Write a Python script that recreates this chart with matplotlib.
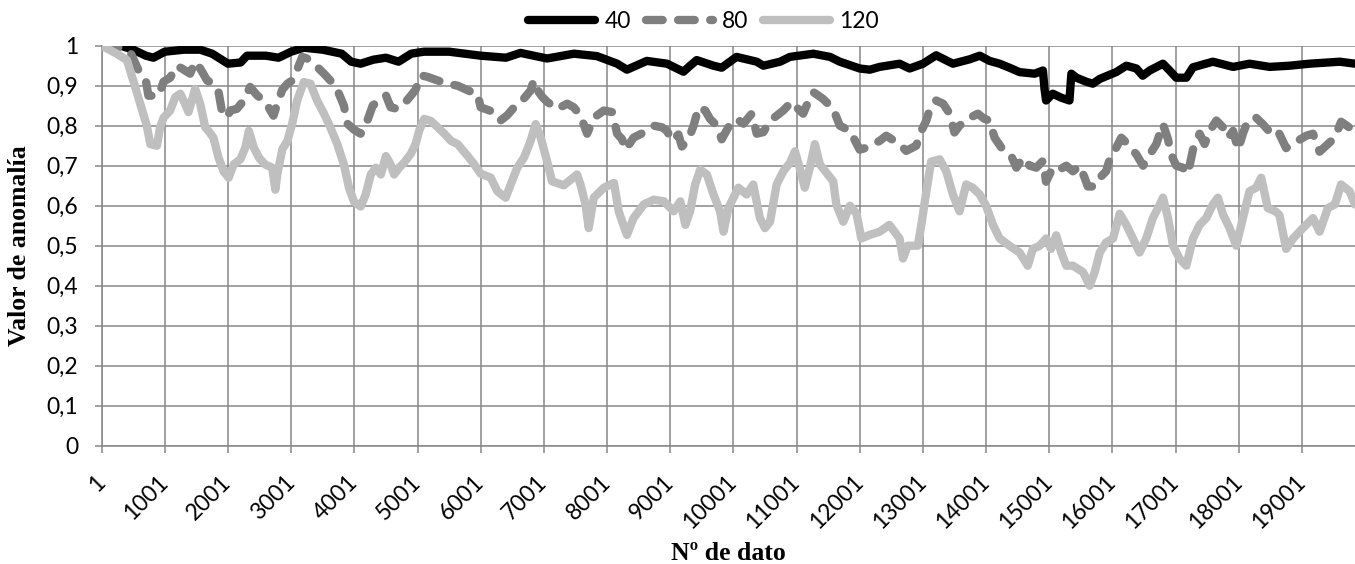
import matplotlib
matplotlib.use("Agg")
import matplotlib.pyplot as plt
from matplotlib.ticker import FixedLocator, FuncFormatter

# ---------------- data ----------------
series_labels = ["40", "80", "120"]

x40 = [1, 300, 500, 700, 820, 1000, 1300, 1560, 1750, 1900, 2000, 2200, 2300, 2600, 2800,
       3000, 3200, 3500, 3800, 3950, 4100, 4300, 4500, 4700, 4900, 5100, 5500, 6000, 6400,
       6630, 7050, 7475, 7840, 8160, 8315, 8630, 8950, 9105, 9210, 9315, 9420, 9685, 9815,
       10050, 10370, 10475, 10740, 10895, 11265, 11530, 11685, 12000, 12160, 12315, 12630,
       12790, 13001, 13210, 13475, 13740, 13900, 14055, 14215, 14370, 14530, 14770, 14900,
       14925, 14950, 15055, 15190, 15320, 15350, 15430, 15585, 15690, 15800, 16060, 16220,
       16380, 16480, 16590, 16800, 16905, 17010, 17170, 17275, 17590, 17910, 18170, 18490,
       18805, 19120, 19600, 19840]
y40 = [1.0, 1.0, 0.99, 0.975, 0.97, 0.985, 0.99, 0.99, 0.98, 0.965, 0.955, 0.958, 0.975, 0.975, 0.97,
       0.985, 0.995, 0.99, 0.98, 0.96, 0.955, 0.965, 0.97, 0.96, 0.98, 0.985, 0.985, 0.975, 0.97,
       0.982, 0.968, 0.98, 0.974, 0.955, 0.94, 0.962, 0.955, 0.943, 0.935, 0.95, 0.964, 0.95, 0.945,
       0.972, 0.96, 0.95, 0.96, 0.972, 0.98, 0.972, 0.96, 0.943, 0.94, 0.947, 0.955,
       0.943, 0.955, 0.976, 0.955, 0.966, 0.975, 0.962, 0.955, 0.945, 0.934, 0.93, 0.938,
       0.892, 0.863, 0.88, 0.87, 0.863, 0.93, 0.92, 0.91, 0.905, 0.917, 0.934, 0.95,
       0.943, 0.925, 0.938, 0.955, 0.938, 0.92, 0.92, 0.946, 0.96, 0.947, 0.955, 0.947,
       0.95, 0.955, 0.96, 0.955]

x80 = [1, 300, 450, 610, 700, 740, 900, 980, 1085, 1190, 1270, 1400, 1480, 1560, 1670, 1770,
       1850, 1900, 1985, 2035, 2140, 2250, 2350, 2460, 2590, 2720, 2780, 2860, 2940, 3015,
       3095, 3175, 3250, 3360, 3520, 3620, 3730, 3835, 3890, 3995, 4100, 4200, 4290, 4420,
       4500, 4575, 4680, 4815, 4920, 4970, 5050, 5160, 5320, 5475, 5635, 5845, 5950,
       6000, 6210, 6315, 6420, 6580, 6685, 6790, 6840, 6920, 6975, 7050, 7210, 7370, 7475,
       7580, 7685, 7790, 7950, 8080, 8160, 8240, 8290, 8420, 8580, 8740, 8870, 8950, 9030,
       9130, 9185, 9290, 9370, 9450, 9555, 9630, 9740, 9815, 9920, 10050, 10160, 10290,
       10370, 10475, 10580, 10685, 10790, 10925, 11025, 11105, 11185, 11265, 11420, 11580,
       11685, 11845, 12000, 12105, 12315, 12420, 12630, 12735, 12895, 12975, 13055, 13110,
       13210, 13320, 13425, 13500, 13580, 13710, 13870, 13975, 14055, 14135, 14265, 14400,
       14480, 14585, 14690, 14795, 14900, 14950, 15055, 15160, 15270, 15375, 15480, 15560,
       15610, 15720, 15800, 15900, 15955, 16060, 16140, 16245, 16380, 16485, 16590, 16695,
       16800, 16880, 16930, 17010, 17115, 17195, 17275, 17380, 17460, 17540, 17645, 17750,
       17830, 17910, 17990, 18065, 18145, 18275, 18380, 18515, 18620, 18750, 18910, 19070,
       19175, 19280, 19410, 19520, 19620, 19755, 19840]
y80 = [1.0, 0.995, 0.985, 0.93, 0.913, 0.875, 0.875, 0.91, 0.92, 0.95, 0.943, 0.93, 0.96, 0.943, 0.913, 0.905,
       0.885, 0.84, 0.82, 0.838, 0.842, 0.863, 0.897, 0.876, 0.86, 0.825, 0.855, 0.89, 0.905, 0.913,
       0.94, 0.972, 0.968, 0.955, 0.93, 0.913, 0.89, 0.85, 0.805, 0.79, 0.78, 0.81, 0.85, 0.868,
       0.876, 0.846, 0.842, 0.86, 0.88, 0.89, 0.926, 0.922, 0.913, 0.905, 0.9, 0.885, 0.88,
       0.846, 0.834, 0.813, 0.826, 0.855, 0.868, 0.888, 0.913, 0.884, 0.872, 0.86, 0.842, 0.855, 0.846,
       0.825, 0.78, 0.82, 0.838, 0.834, 0.78, 0.766, 0.74, 0.77, 0.783, 0.8, 0.796, 0.787, 0.762,
       0.778, 0.748, 0.766, 0.8, 0.846, 0.838, 0.817, 0.8, 0.766, 0.796, 0.817, 0.805, 0.83,
       0.78, 0.784, 0.812, 0.825, 0.838, 0.86, 0.842, 0.83, 0.86, 0.884, 0.867, 0.842,
       0.8, 0.787, 0.74, 0.745, 0.762, 0.775, 0.754, 0.737, 0.75, 0.787, 0.813, 0.842,
       0.863, 0.855, 0.83, 0.783, 0.8, 0.817, 0.83, 0.817, 0.813, 0.77, 0.74, 0.724,
       0.695, 0.72, 0.7, 0.695, 0.712, 0.66, 0.695, 0.69, 0.7, 0.686, 0.7, 0.67,
       0.648, 0.648, 0.67, 0.686, 0.715, 0.745, 0.77, 0.754, 0.728, 0.7, 0.728, 0.754,
       0.804, 0.766, 0.728, 0.7, 0.695, 0.68, 0.74, 0.78, 0.754, 0.787, 0.813, 0.796,
       0.77, 0.787, 0.74, 0.78, 0.813, 0.82, 0.804, 0.78, 0.787, 0.744, 0.76, 0.775,
       0.78, 0.735, 0.754, 0.77, 0.81, 0.795, 0.78]

x120 = [1, 240, 400, 500, 610, 715, 770, 875, 925, 980, 1085, 1165, 1245, 1320, 1375, 1480, 1560,
        1640, 1690, 1770, 1850, 1930, 2010, 2090, 2195, 2275, 2330, 2410, 2490, 2590, 2700, 2750,
        2780, 2860, 2940, 3015, 3095, 3200, 3305, 3410, 3520, 3620, 3730, 3835, 3915, 3995, 4100,
        4180, 4260, 4340, 4420, 4500, 4575, 4630, 4710, 4790, 4895, 4970, 5025, 5105, 5210, 5320,
        5425, 5530, 5635, 5795, 5900, 6000, 6160, 6265, 6395, 6475, 6580, 6685, 6790, 6870, 6950,
        7050, 7130, 7315, 7525, 7580, 7660, 7710, 7790, 7950, 8110, 8185, 8240, 8315, 8420, 8580,
        8740, 8900, 9055, 9160, 9240, 9315, 9395, 9475, 9580, 9685, 9790, 9845, 9920, 10080, 10210,
        10315, 10420, 10500, 10580, 10685, 10790, 10895, 10975, 11050, 11130, 11210, 11290, 11370,
        11475, 11580, 11630, 11740, 11845, 11950, 12025, 12160, 12315, 12470, 12630, 12685, 12760,
        12920, 12975, 13055, 13130, 13265, 13370, 13475, 13580, 13685, 13790, 13900, 14000, 14110,
        14215, 14370, 14530, 14660, 14740, 14850, 14950, 15030, 15110, 15190, 15270, 15375, 15535,
        15640, 15720, 15800, 15900, 16010, 16115, 16220, 16325, 16430, 16535, 16640, 16750, 16800,
        16880, 16960, 17065, 17170, 17275, 17380, 17485, 17590, 17670, 17750, 17855, 17960, 18065,
        18170, 18275, 18355, 18460, 18590, 18645, 18750, 18860, 19015, 19175, 19280, 19410, 19520,
        19620, 19755, 19840]
y120 = [1.0, 0.98, 0.964, 0.913, 0.855, 0.8, 0.754, 0.75, 0.796, 0.82, 0.838, 0.871, 0.88, 0.855, 0.834, 0.892, 0.855,
        0.796, 0.787, 0.77, 0.72, 0.686, 0.67, 0.703, 0.716, 0.745, 0.787, 0.745, 0.72, 0.703, 0.695, 0.64,
        0.678, 0.741, 0.762, 0.804, 0.863, 0.909, 0.905, 0.863, 0.83, 0.796, 0.754, 0.703, 0.645, 0.61, 0.598,
        0.628, 0.678, 0.695, 0.678, 0.724, 0.703, 0.678, 0.695, 0.708, 0.73, 0.754, 0.787, 0.817, 0.812, 0.796,
        0.78, 0.762, 0.754, 0.724, 0.703, 0.68, 0.67, 0.636, 0.62, 0.653, 0.695, 0.72, 0.762, 0.804, 0.77,
        0.712, 0.661, 0.651, 0.678, 0.653, 0.603, 0.544, 0.62, 0.645, 0.657, 0.586, 0.56, 0.527, 0.569, 0.603,
        0.615, 0.611, 0.586, 0.611, 0.552, 0.586, 0.653, 0.69, 0.678, 0.628, 0.586, 0.535, 0.594, 0.645, 0.628,
        0.653, 0.569, 0.544, 0.56, 0.653, 0.686, 0.707, 0.736, 0.695, 0.645, 0.695, 0.754, 0.703,
        0.682, 0.661, 0.603, 0.56, 0.6, 0.58, 0.518, 0.527, 0.535, 0.552, 0.518, 0.468, 0.5,
        0.5, 0.552, 0.636, 0.71, 0.716, 0.686, 0.628, 0.586, 0.653, 0.645, 0.628, 0.6, 0.552,
        0.518, 0.5, 0.483, 0.45, 0.492, 0.5, 0.518, 0.492, 0.526, 0.483, 0.45, 0.45, 0.434,
        0.4, 0.434, 0.483, 0.508, 0.518, 0.58, 0.552, 0.518, 0.483, 0.518, 0.569, 0.603, 0.62,
        0.569, 0.5, 0.467, 0.45, 0.518, 0.552, 0.569, 0.603, 0.62, 0.578, 0.544, 0.5, 0.569,
        0.636, 0.645, 0.67, 0.594, 0.585, 0.576, 0.492, 0.518, 0.544, 0.569, 0.535, 0.594, 0.603,
        0.653, 0.636, 0.603]

x_ticks = list(range(1, 19002, 1000))
y_ticks = [0.0, 0.1, 0.2, 0.3, 0.4, 0.5, 0.6, 0.7, 0.8, 0.9, 1.0]
x_max = 19840

x_title = "Nº de dato"
y_title = "Valor de anomalía"

# ---------------- figure ----------------
W, H = 1355, 564
fig = plt.figure(figsize=(W / 100, H / 100), dpi=100)
ax = fig.add_axes([101.7 / W, 1 - 445.7 / H, (W - 101.7) / W, 400 / H])

grid_c = "#878787"
tick_font = "Lato"
fs = 16.5
lw = 6.0

ax.plot(x40, y40, color="#000000", lw=lw, solid_capstyle="round", solid_joinstyle="round",
        label=series_labels[0], zorder=3)
l80, = ax.plot(x80, y80, color="#7f7f7f", lw=lw, dash_capstyle="round", dash_joinstyle="round",
               label=series_labels[1], zorder=4)
l80.set_dashes([2.0, 1.85])
ax.plot(x120, y120, color="#bfbfbf", lw=lw, solid_capstyle="round", solid_joinstyle="round",
        label=series_labels[2], zorder=5)

ax.set_xlim(1, x_max)
ax.set_ylim(0, 1)
ax.xaxis.set_major_locator(FixedLocator(x_ticks))
ax.yaxis.set_major_locator(FixedLocator(y_ticks))
ax.yaxis.set_major_formatter(FuncFormatter(lambda v, p: ("%g" % round(v, 1)).replace(".", ",")))
ax.set_xticklabels([str(t) for t in x_ticks], rotation=45, ha="right", va="center",
                   rotation_mode="anchor", fontfamily=tick_font, fontsize=fs)
for lab in ax.get_yticklabels():
    lab.set_fontfamily(tick_font)
    lab.set_fontsize(fs)

ax.grid(True, color=grid_c, lw=1.1, zorder=0)
ax.set_axisbelow(True)
for s in ["top", "right"]:
    ax.spines[s].set_visible(False)
for s in ["left", "bottom"]:
    ax.spines[s].set_color(grid_c)
    ax.spines[s].set_linewidth(1.1)
ax.tick_params(axis="both", which="major", length=5, width=1.1, color=grid_c, direction="out")
ax.tick_params(axis="y", pad=12)
ax.tick_params(axis="x", pad=19)

fig.text(728 / W, 1 - 560 / H, x_title, ha="center", va="baseline",
         family="Liberation Serif", weight="bold", fontsize=18.5)
fig.text(20 / W, 1 - 246 / H, y_title, ha="center", va="center", rotation=90,
         family="Liberation Serif", weight="bold", fontsize=18.5)

handles, labels = ax.get_legend_handles_labels()
leg = fig.legend(handles, labels, loc="center", bbox_to_anchor=(703.5 / W, 1 - 21.7 / H),
                 ncol=3, frameon=False, handlelength=2.92, handletextpad=0.4,
                 columnspacing=0.65, prop={"family": tick_font, "size": fs})

fig.savefig("out.png", dpi=100)
